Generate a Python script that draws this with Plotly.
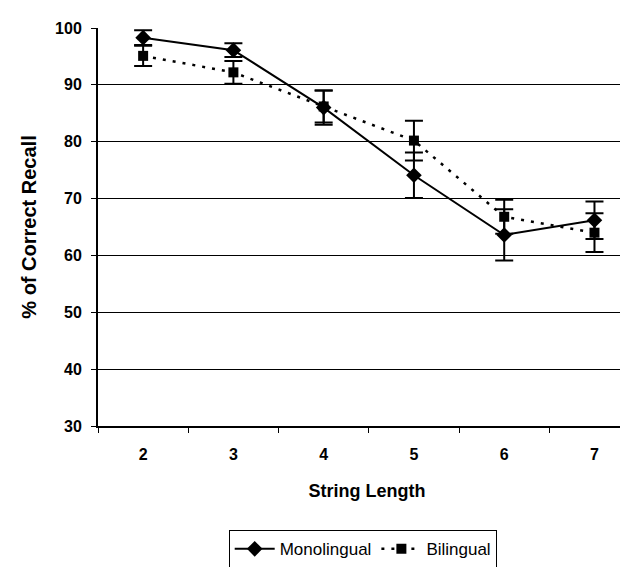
import plotly.graph_objects as go

string_length = [2, 3, 4, 5, 6, 7]
mono_mean = [98.3, 96.1, 86.0, 74.1, 63.6, 66.2]
mono_err = [1.3, 1.2, 3.0, 4.0, 4.5, 3.3]
bi_mean = [95.1, 92.2, 86.2, 80.2, 66.8, 64.0]
bi_err = [1.8, 2.0, 2.8, 3.5, 3.0, 3.4]
y_ticks = [30, 40, 50, 60, 70, 80, 90, 100]

FONT = "Liberation Sans, Arial, sans-serif"

fig = go.Figure()
fig.add_trace(go.Scatter(
    x=string_length, y=mono_mean, name="Monolingual", mode="lines+markers",
    line=dict(color="black", width=2),
    marker=dict(symbol="diamond", size=12, color="black"),
    error_y=dict(type="data", array=mono_err, visible=True, color="black", thickness=2, width=9),
))
fig.add_trace(go.Scatter(
    x=string_length, y=bi_mean, name="Bilingual", mode="lines+markers",
    line=dict(color="black", width=2.5, dash="3px,7px"),
    marker=dict(symbol="square", size=10, color="black"),
    error_y=dict(type="data", array=bi_err, visible=True, color="black", thickness=2, width=9),
))

fig.update_layout(
    width=628, height=567,
    margin=dict(l=90, r=0, t=20, b=149),
    paper_bgcolor="white", plot_bgcolor="white",
    font=dict(family=FONT, color="black"),
    showlegend=True,
    legend=dict(
        orientation="h", x=0.492, xanchor="center", y=-0.262, yanchor="top",
        bordercolor="black", borderwidth=1, font=dict(size=17, family=FONT),
        itemwidth=40,
    ),
    xaxis=dict(
        range=[1.5, 7.46], tickvals=string_length, ticks="", showgrid=False,
        showline=True, linecolor="black", linewidth=2, automargin=False,
        tickfont=dict(size=16, family=FONT, weight="bold"), ticklabelstandoff=13,
        minor=dict(ticks="outside", tick0=1.5, dtick=1, ticklen=5, tickcolor="black", tickwidth=1, showgrid=False),
        title=dict(text="String Length", font=dict(size=18, family=FONT, weight="bold"), standoff=22),
        zeroline=False,
    ),
    yaxis=dict(
        range=[30, 100], tickvals=y_ticks, ticks="outside", ticklen=5, tickcolor="black",
        showgrid=True, gridcolor="black", gridwidth=1, automargin=False,
        showline=True, linecolor="black", linewidth=2,
        tickfont=dict(size=16, family=FONT, weight="bold"), ticklabelstandoff=6,
        title=dict(text="% of Correct Recall", font=dict(size=20, family=FONT, weight="bold"), standoff=13),
        zeroline=False,
    ),
)

fig.write_html("out.html")
